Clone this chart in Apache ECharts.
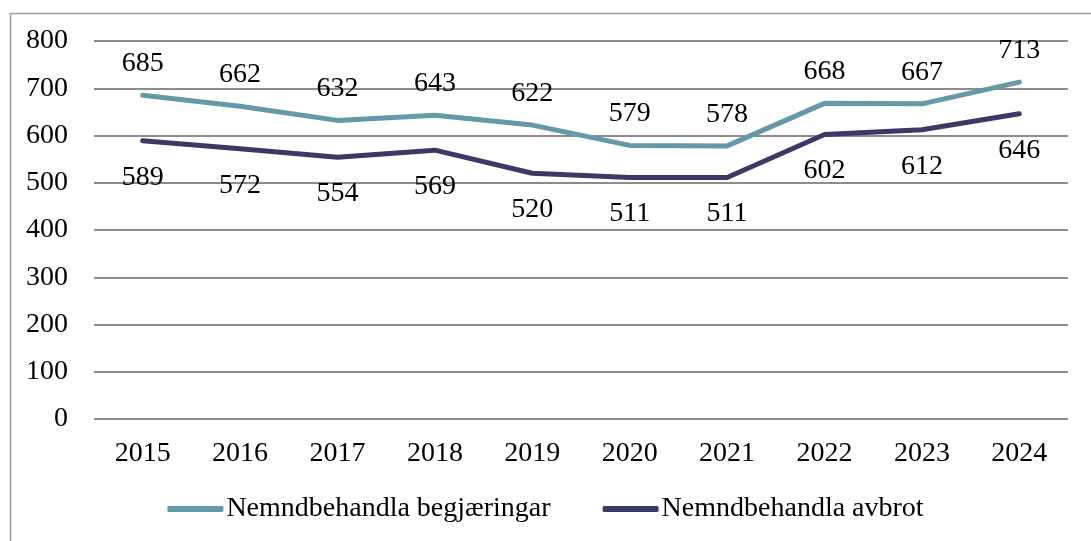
<!DOCTYPE html>
<html>
<head>
<meta charset="utf-8">
<script src="https://cdn.jsdelivr.net/npm/echarts@6/dist/echarts.min.js"></script>
<style>
  html, body { margin: 0; padding: 0; background: #fff; }
  #chart { width: 1091px; height: 541px; }
</style>
</head>
<body>
<div id="chart"></div>
<script>
var years = ['2015', '2016', '2017', '2018', '2019', '2020', '2021', '2022', '2023', '2024'];
var begjaeringar = [685, 662, 632, 643, 622, 579, 578, 668, 667, 713];
var avbrot = [589, 572, 554, 569, 520, 511, 511, 602, 612, 646];

var fontFamily = '"Liberation Serif", "DejaVu Serif", serif';

// Initialize the echarts instance
var myChart = echarts.init(document.getElementById('chart'));

var option = {
    animation: false,
    textStyle: { fontFamily: fontFamily },
    graphic: [{
        type: 'rect',
        left: 8, top: 11,
        shape: { width: 1200, height: 700 },
        style: { fill: 'none', stroke: '#9a9a9a', lineWidth: 1.5 },
        silent: true
    }],
    grid: { left: 94, right: 23, top: 41, bottom: 122 },
    legend: {
        bottom: 13,
        left: 'center',
        icon: 'roundRect',
        itemWidth: 56,
        itemHeight: 6,
        itemGap: 52,
        textStyle: { fontSize: 28, color: '#000', fontFamily: fontFamily, padding: [0, 0, 0, -2] },
        data: ['Nemndbehandla begjæringar', 'Nemndbehandla avbrot']
    },
    xAxis: {
        type: 'category',
        data: years,
        axisLine: { show: false },
        axisTick: { show: false },
        axisLabel: { fontSize: 28, color: '#000', margin: 21, fontFamily: fontFamily }
    },
    yAxis: {
        type: 'value',
        min: 0, max: 800, interval: 100,
        axisLine: { show: false },
        axisTick: { show: false },
        axisLabel: { fontSize: 28, color: '#000', margin: 26, fontFamily: fontFamily },
        splitLine: { lineStyle: { color: '#8c8c8c', width: 2 } }
    },
    series: [
        {
            name: 'Nemndbehandla begjæringar',
            type: 'line',
            data: begjaeringar,
            showSymbol: true,
            symbol: 'circle',
            symbolSize: 3,
            color: '#6598a8',
            lineStyle: { width: 5, color: '#6598a8', cap: 'round' },
            label: {
                show: true, position: 'top', distance: 16,
                fontSize: 28, color: '#000', fontFamily: fontFamily
            }
        },
        {
            name: 'Nemndbehandla avbrot',
            type: 'line',
            data: avbrot,
            showSymbol: true,
            symbol: 'circle',
            symbolSize: 3,
            color: '#3b3a66',
            lineStyle: { width: 5, color: '#3b3a66', cap: 'round' },
            label: {
                show: true, position: 'bottom', distance: 21,
                fontSize: 28, color: '#000', fontFamily: fontFamily
            }
        }
    ]
};

myChart.setOption(option);
</script>
</body>
</html>
